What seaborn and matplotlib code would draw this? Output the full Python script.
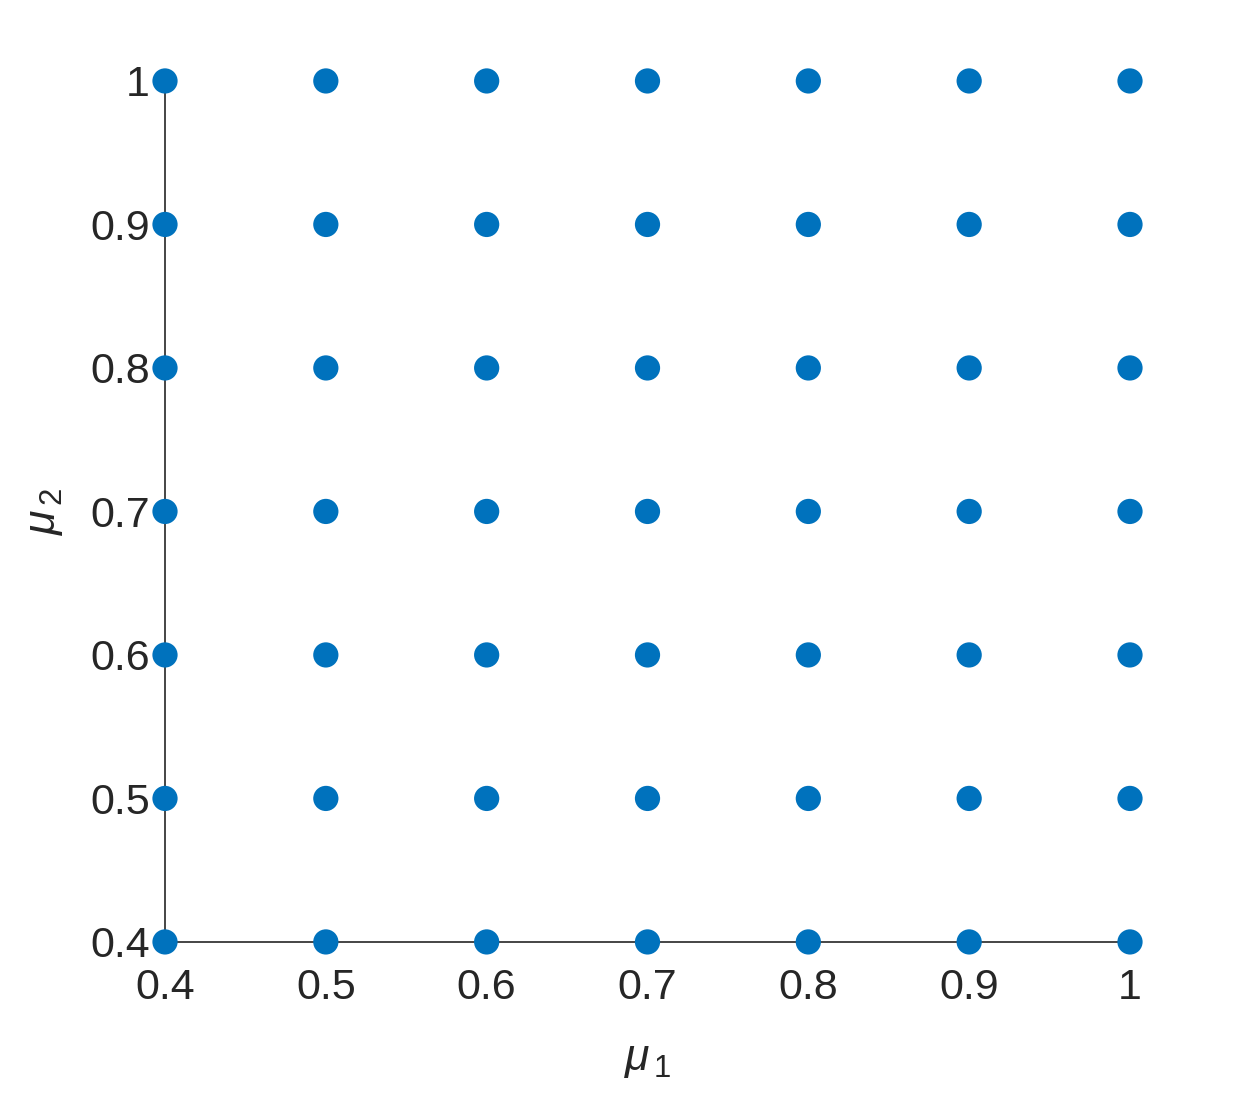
import numpy as np
import pandas as pd
import matplotlib
matplotlib.use("Agg")
import matplotlib.pyplot as plt
import seaborn as sns

mu1_values = [0.4, 0.5, 0.6, 0.7, 0.8, 0.9, 1.0]
mu2_values = [0.4, 0.5, 0.6, 0.7, 0.8, 0.9, 1.0]
tick_values = [0.4, 0.5, 0.6, 0.7, 0.8, 0.9, 1.0]
tick_labels = ["0.4", "0.5", "0.6", "0.7", "0.8", "0.9", "1"]

rows = [(a, b) for a in mu1_values for b in mu2_values]
df = pd.DataFrame(rows, columns=["mu1", "mu2"])

sns.set_style("white")
plt.rcParams['font.family'] = ['Liberation Sans', 'DejaVu Sans']
plt.rcParams['mathtext.fontset'] = 'custom'
plt.rcParams['mathtext.it'] = 'Liberation Sans:italic'
plt.rcParams['mathtext.rm'] = 'Liberation Sans'

fig = plt.figure(figsize=(12.5, 10.94), dpi=100)
ax = fig.add_axes([0.132, 0.139, 0.772, 0.787])
sns.scatterplot(data=df, x="mu1", y="mu2", ax=ax, color="#0072BD", s=330,
                edgecolor="none", clip_on=False, zorder=3)
ax.set_xlim(0.4, 1.0)
ax.set_ylim(0.4, 1.0)
ax.set_xticks(tick_values)
ax.set_xticklabels(tick_labels)
ax.set_yticks(tick_values)
ax.set_yticklabels(tick_labels)
ax.tick_params(axis="both", length=0, labelsize=31, colors="#262626")
ax.tick_params(axis="x", pad=19)
ax.tick_params(axis="y", pad=11)
for side in ["top", "right"]:
    ax.spines[side].set_visible(False)
for side in ["left", "bottom"]:
    ax.spines[side].set_color("#262626")
    ax.spines[side].set_linewidth(1.2)
ax.set_xlabel(r"$\mu_{\,1}$", fontsize=32, color="#262626", labelpad=22)
ax.set_ylabel(r"$\mu_{\,2}$", fontsize=32, color="#262626", labelpad=18)
fig.savefig("out.png", dpi=100)
